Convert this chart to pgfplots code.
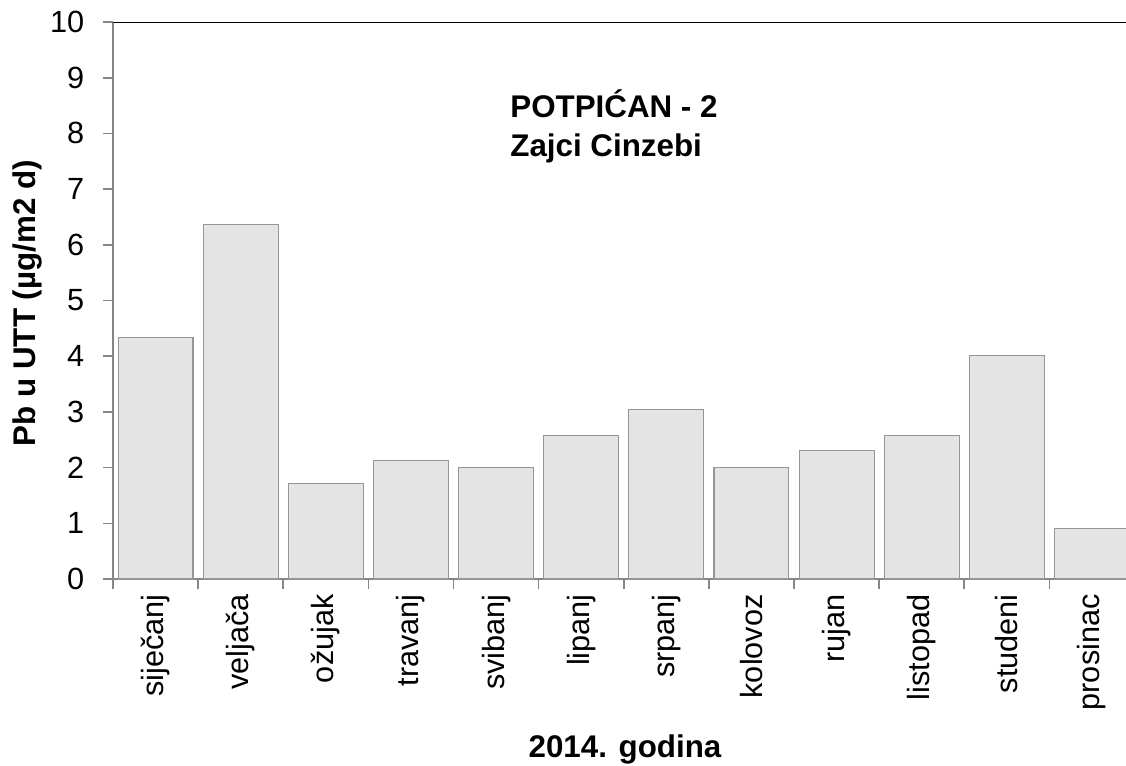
\documentclass[border=0pt]{standalone}
\usepackage{fontspec}
\setmainfont{Liberation Sans}
\usepackage{pgfplots}
\pgfplotsset{compat=1.18}
\definecolor{barfill}{RGB}{228,228,228}
\definecolor{baredge}{RGB}{150,150,150}
\definecolor{axgray}{RGB}{134,134,134}
\begin{document}
\begin{tikzpicture}
\begin{axis}[
  name=ax,
  scale only axis,
  width=759.75pt, height=417.75pt,
  xmin=-0.5, xmax=11.40,
  ymin=0, ymax=10,
  ytick={0,1,...,10},
  xtick={-0.5,0.5,...,11.5},
  xticklabels={},
  extra x ticks={0,1,...,11},
  extra x tick labels={siječanj,veljača,ožujak,travanj,svibanj,lipanj,srpanj,kolovoz,rujan,listopad,studeni,prosinac},
  extra x tick style={major tick length=0pt, xticklabel style={rotate=90, anchor=east, xshift=-8pt}},
  tick style={axgray, line width=1.2pt},
  major tick length=7.5pt,
  tick align=outside,
  axis lines*=left,
  axis line style={axgray, line width=1.5pt, -},
  tick label style={font=\fontsize{23}{27}\selectfont},
  /pgf/number format/assume math mode=true,
  yticklabel style={xshift=-10.5pt},
  clip=true,
]
\addplot[ybar, bar width=0.88, fill=barfill, draw=baredge, line width=0.8pt]
  coordinates {(0,4.33) (1,6.36) (2,1.71) (3,2.12) (4,2.01) (5,2.57) (6,3.05) (7,2.01) (8,2.30) (9,2.57) (10,4.02) (11,0.90)};
\draw[black, line width=1.5pt] (rel axis cs:0,1) -- (rel axis cs:1,1);
\node[anchor=north west, align=left, font=\bfseries\fontsize{23.5}{29}\selectfont, inner sep=0pt] at (rel axis cs:0.392,0.878) {POTPIĆAN - 2\\Zajci Cinzebi};
\end{axis}
\node[rotate=90, font=\bfseries\fontsize{23.5}{27}\selectfont] at ([xshift=-64.5pt,yshift=-2pt]ax.west) {Pb u UTT (µg/m2 d)};
\node[font=\bfseries\fontsize{23.5}{27}\selectfont] at ([xshift=384pt,yshift=-128pt]ax.south west) {2014. godina};
\pgfresetboundingbox
\path ([xshift=-84.75pt,yshift=-139.5pt]ax.south west) rectangle ([xshift=0pt,yshift=16.5pt]ax.north east);
\end{tikzpicture}
\end{document}
